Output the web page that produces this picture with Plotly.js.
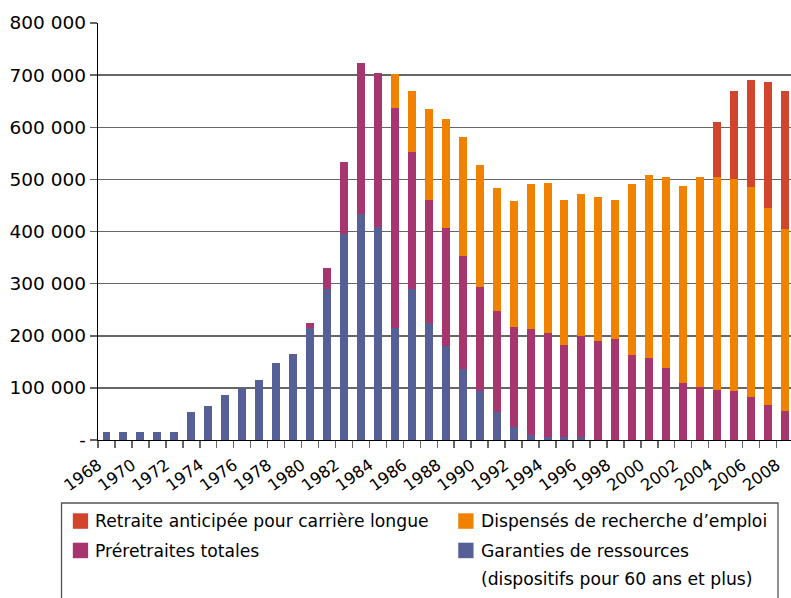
<!DOCTYPE html>
<html>
<head>
<meta charset="utf-8">
<script src="https://cdn.plot.ly/plotly-3.0.1.min.js"></script>
<style>
html,body{margin:0;padding:0;background:#fff;}
#chart{width:791px;height:598px;}
</style>
</head>
<body>
<div id="chart"></div>
<script>
var years = [1968,1969,1970,1971,1972,1973,1974,1975,1976,1977,1978,1979,1980,1981,1982,1983,1984,1985,1986,1987,1988,1989,1990,1991,1992,1993,1994,1995,1996,1997,1998,1999,2000,2001,2002,2003,2004,2005,2006,2007,2008];

var garanties = [15000,15000,15000,15000,15000,54000,65000,86000,99000,115000,148000,165000,215000,289000,396000,434000,408000,215000,289000,224000,181000,136000,94000,54000,24000,10000,5000,5000,5000,0,0,0,0,0,0,0,0,0,0,0,0];

var preretraites = [0,0,0,0,0,0,0,0,0,0,0,0,9000,41000,137000,289000,296000,421000,263000,236000,225000,217000,199000,193000,193000,203000,200000,177000,194000,190000,194000,163000,157000,138000,109000,102000,96000,94000,82000,67000,56000];

var dispenses = [0,0,0,0,0,0,0,0,0,0,0,0,0,0,0,0,0,66000,117000,175000,209000,228000,234000,236000,241000,278000,288000,278000,273000,276000,266000,328000,351000,366000,378000,402000,408000,406000,403000,378000,348000];

var retraiteAnticipee = [0,0,0,0,0,0,0,0,0,0,0,0,0,0,0,0,0,0,0,0,0,0,0,0,0,0,0,0,0,0,0,0,0,0,0,0,106000,169000,205000,241000,265000];

var seriesNames = ["Garanties de ressources", "Préretraites totales", "Dispensés de recherche d’emploi", "Retraite anticipée pour carrière longue"];
var seriesNote = "(dispositifs pour 60 ans et plus)";
var seriesColors = ["#566096", "#a8366e", "#f08200", "#d2442c"];

var xTickVals = [1968,1970,1972,1974,1976,1978,1980,1982,1984,1986,1988,1990,1992,1994,1996,1998,2000,2002,2004,2006,2008];
var xTickText = xTickVals.map(String);
var yTickVals = [0,100000,200000,300000,400000,500000,600000,700000,800000];
var yTickText = ["-","100 000","200 000","300 000","400 000","500 000","600 000","700 000","800 000"];

var values = [garanties, preretraites, dispenses, retraiteAnticipee];
var traces = values.map(function(v, i){
  return {
    type: "bar",
    x: years,
    y: v,
    name: seriesNames[i],
    marker: {color: seriesColors[i], line: {width: 0}},
    showlegend: false,
    hoverinfo: "skip"
  };
});

// layout geometry (pixels)
var W = 791, H = 598;
var mL = 97.5, mR = 0, mT = 23, mB = 158;
var plotW = W - mL - mR, plotH = H - mT - mB;
var catPx = 16.975;
function px(xp){ return (xp - mL) / plotW; }
function py(yp){ return (H - mB - yp) / plotH; }

var legendFont = {family: "DejaVu Sans", size: 17.2, color: "#000"};
var shapes = [
  {type: "rect", xref: "paper", yref: "paper", x0: px(61), x1: px(778), y0: py(503), y1: py(640),
   line: {color: "#555", width: 1.3}, fillcolor: "rgba(0,0,0,0)", layer: "above"}
];
var annotations = [];
// legend entries: [seriesIndex, left px, top px]
var legendItems = [[3, 72.3, 513.3], [2, 458, 513.3], [1, 72.3, 542.7], [0, 458, 542.7]];
legendItems.forEach(function(it){
  var idx = it[0], lx = it[1], ty = it[2];
  shapes.push({type: "rect", xref: "paper", yref: "paper",
    x0: px(lx), x1: px(lx + 15.3), y0: py(ty), y1: py(ty + 15.5),
    line: {width: 0}, fillcolor: seriesColors[idx], layer: "above"});
  annotations.push({xref: "paper", yref: "paper", x: px(lx + 22.5), y: py(ty + 8),
    xanchor: "left", yanchor: "middle", showarrow: false, borderpad: 0, borderwidth: 0,
    text: seriesNames[idx], font: legendFont});
});
annotations.push({xref: "paper", yref: "paper", x: px(458 + 22.5), y: py(579),
  xanchor: "left", yanchor: "middle", showarrow: false, borderpad: 0, borderwidth: 0,
  text: seriesNote, font: legendFont});

var layout = {
  width: W, height: H,
  margin: {l: mL, r: mR, t: mT, b: mB, pad: 0},
  paper_bgcolor: "#fff", plot_bgcolor: "#fff",
  barmode: "stack",
  bargap: 0.53,
  showlegend: false,
  hovermode: false,
  font: {family: "DejaVu Sans", color: "#000"},
  xaxis: {
    type: "linear",
    range: [1967.5, 1967.5 + plotW / catPx],
    tickvals: xTickVals,
    ticktext: xTickText.map(function(t){ return t + "\u00a0\u00a0"; }),
    tickangle: -36,
    ticklabeloverflow: "allow",
    ticks: "outside", ticklen: 2, tickcolor: "rgba(0,0,0,0)",
    tickfont: {family: "DejaVu Sans", size: 16.3, color: "#000"},
    minor: {tick0: 1967.5, dtick: 1, ticks: "outside", ticklen: 7, tickcolor: "#666", tickwidth: 1.5, showgrid: false},
    showgrid: false, zeroline: false,
    showline: true, linecolor: "#000", linewidth: 1.3,
    fixedrange: true
  },
  yaxis: {
    range: [0, 800000],
    tickvals: yTickVals,
    ticktext: yTickText,
    ticks: "outside", ticklen: 7, tickcolor: "#666", tickwidth: 1.5,
    tickfont: {family: "DejaVu Sans", size: 18.5, color: "#000"},
    showgrid: true, gridcolor: "#666", gridwidth: 1.5,
    zeroline: false,
    showline: true, linecolor: "#000", linewidth: 1.3,
    fixedrange: true
  },
  shapes: shapes,
  annotations: annotations
};

Plotly.newPlot("chart", traces, layout, {displayModeBar: false, staticPlot: true});
</script>
</body>
</html>
